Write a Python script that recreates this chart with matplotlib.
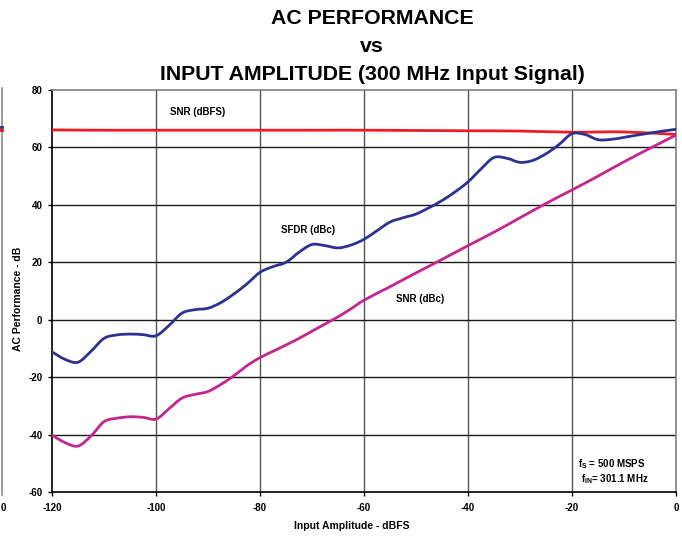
import matplotlib
matplotlib.use("Agg")
import matplotlib.pyplot as plt
from matplotlib.lines import Line2D
from matplotlib.path import Path
from matplotlib.patches import PathPatch

plt.rcParams['font.family'] = ['Liberation Sans', 'DejaVu Sans']
plt.rcParams['axes.unicode_minus'] = False
plt.rcParams['mathtext.fontset'] = 'custom'
plt.rcParams['mathtext.bf'] = 'Liberation Sans:bold'
plt.rcParams['mathtext.rm'] = 'Liberation Sans'

# Input amplitude (dBFS)
sfdr_x = [-120, -117.5, -115, -112.5, -110, -107.5, -105, -102.5, -100, -97.5, -95, -92.5, -90,
          -87.5, -85, -82.5, -80, -77.5, -75, -72.5, -70, -67.5, -65, -62.5, -60, -57.5, -55,
          -52.5, -50, -47.5, -45, -42.5, -40, -37.5, -35, -32.5, -30, -27.5, -25, -22.5, -20,
          -17.5, -15, -12.5, -10, -7.5, -5, -2.5, 0]
sfdr_dbc = [-11.2, -13.8, -14.8, -11.0, -6.5, -5.3, -5.0, -5.2, -5.6, -2.0, 2.3, 3.5, 4.0,
            6.0, 9.0, 12.5, 16.5, 18.5, 20.0, 23.5, 26.2, 25.8, 25.0, 26.0, 28.0, 31.0, 34.0,
            35.5, 36.8, 39.0, 41.5, 44.5, 48.0, 52.5, 56.5, 56.2, 54.8, 55.5, 57.8, 61.0, 64.8,
            64.5, 62.7, 62.8, 63.5, 64.3, 65.0, 65.7, 66.3]

snr_x = [-120, -117.5, -115, -112.5, -110, -107.5, -105, -102.5, -100, -97.5, -95, -92.5, -90,
         -87.5, -85, -82.5, -80, -77.5, -75, -72.5, -70, -67.5, -65, -62.5, -60, -55, -50,
         -45, -40, -35, -30, -25, -20, -15, -10, -5, 0]
snr_dbc = [-40.2, -42.8, -44.0, -40.5, -35.5, -34.3, -33.8, -34.0, -34.6, -31.0, -27.3, -26.0, -25.0,
           -22.5, -19.5, -16.0, -13.2, -11.0, -8.8, -6.5, -4.0, -1.5, 1.0, 3.8, 6.8, 11.5, 16.3,
           21.0, 25.8, 30.5, 35.5, 40.5, 45.2, 50.0, 55.0, 59.7, 64.3]

snrfs_x = [-120, -110, -100, -90, -80, -70, -60, -50, -40, -30, -20, -10, 0]
snr_dbfs = [66.1, 66.0, 66.0, 66.0, 66.0, 66.0, 66.0, 65.9, 65.8, 65.7, 65.3, 65.4, 64.5]

x_ticks = [-120, -100, -80, -60, -40, -20, 0]
y_ticks = [-60, -40, -20, 0, 20, 40, 60, 80]


def smooth_line(ax, xs, ys, color, lw, z):
    """Excel-style smoothed line: Bezier segments through the data points."""
    n = len(xs)
    verts = [(xs[0], ys[0])]
    codes = [Path.MOVETO]
    for i in range(n - 1):
        x0, y0 = (xs[i - 1], ys[i - 1]) if i > 0 else (xs[i], ys[i])
        x1, y1 = xs[i], ys[i]
        x2, y2 = xs[i + 1], ys[i + 1]
        x3, y3 = (xs[i + 2], ys[i + 2]) if i + 2 < n else (x2, y2)
        c1 = (x1 + (x2 - x0) / 6.0, y1 + (y2 - y0) / 6.0)
        c2 = (x2 - (x3 - x1) / 6.0, y2 - (y3 - y1) / 6.0)
        verts += [c1, c2, (x2, y2)]
        codes += [Path.CURVE4] * 3
    patch = PathPatch(Path(verts, codes), fill=False, edgecolor=color, lw=lw,
                      transform=ax.transData, zorder=z, capstyle='round', joinstyle='round')
    ax.add_patch(patch)


fig = plt.figure(figsize=(6.82, 5.4), dpi=100)
ax = fig.add_axes([52/682, 48/540, 624/682, 402/540])

for xt in x_ticks[1:-1]:
    ax.axvline(xt, color='#555555', lw=1.0, zorder=1)
for yt in y_ticks[1:-1]:
    ax.axhline(yt, color='#1a1a1a', lw=1.0, zorder=1)

smooth_line(ax, snrfs_x, snr_dbfs, '#ED1C24', 2.0, 3)
smooth_line(ax, snr_x, snr_dbc, '#C4258F', 2.0, 3)
smooth_line(ax, sfdr_x, sfdr_dbc, '#2E3192', 2.0, 4)

ax.set_xlim(-120, 0)
ax.set_ylim(-60, 80)
ax.set_xticks(x_ticks)
ax.set_yticks(y_ticks)
ax.tick_params(axis='x', labelsize=7, length=3, width=1, direction='out', pad=5)
ax.tick_params(axis='y', labelsize=7, length=3, width=1, direction='out', pad=4)
for lab in ax.get_xticklabels() + ax.get_yticklabels():
    lab.set_fontweight('bold')
ax.spines['left'].set_color('black')
ax.spines['bottom'].set_color('black')
ax.spines['top'].set_color('#808080')
ax.spines['right'].set_color('#808080')
for s in ax.spines.values():
    s.set_linewidth(1.2)

fig.text(352/682, 1 - 526/540, 'Input Amplitude - dBFS', fontsize=7.5, fontweight='bold',
         ha='center', va='center')
fig.text(18/682, 1 - 299/540, 'AC Performance - dB', fontsize=7.5, fontweight='bold',
         ha='center', va='center', rotation=90)

fig.text(372/682, 1 - 19/540, 'AC PERFORMANCE', ha='center', va='center', fontsize=15.3, fontweight='bold')
fig.text(372/682, 1 - 46/540, 'vs', ha='center', va='center', fontsize=15.3, fontweight='bold')
fig.text(372/682, 1 - 74/540, 'INPUT AMPLITUDE (300 MHz Input Signal)', ha='center', va='center',
         fontsize=15.3, fontweight='bold')

ax.text(-92, 72.3, 'SNR (dBFS)', fontsize=7, fontweight='bold', ha='center', va='center')
ax.text(-70.8, 31.2, 'SFDR (dBc)', fontsize=7, fontweight='bold', ha='center', va='center')
ax.text(-49.2, 7.2, 'SNR (dBc)', fontsize=7, fontweight='bold', ha='center', va='center')
ax.text(-12.3, -50.2, '$\\mathbf{f_S}$ = 500 MSPS', fontsize=7, fontweight='bold', ha='center', va='center')
ax.text(-11.8, -55.5, '$\\mathbf{f_{IN}}$= 301.1 MHz', fontsize=7, fontweight='bold', ha='center', va='center')

# fragment of neighbouring chart at left edge
fig.add_artist(Line2D([1.5/682, 1.5/682], [1 - 495/540, 1 - 88/540], color='#8c8c8c', lw=1.2))
fig.add_artist(Line2D([0, 1.5/682], [1 - 130/540, 1 - 130/540], color='#ED1C24', lw=2.0))
fig.add_artist(Line2D([0, 1.5/682], [1 - 127/540, 1 - 127/540], color='#2E3192', lw=2.0))
fig.text(0.5/682, 1 - 508/540, '0', fontsize=7, fontweight='bold', ha='left', va='center')

fig.savefig('out.png', dpi=100)
